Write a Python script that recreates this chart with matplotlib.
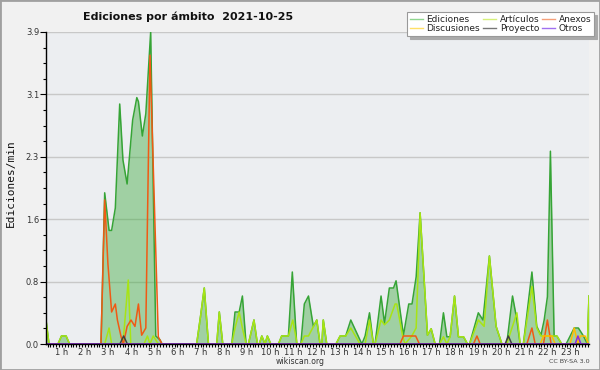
import matplotlib
matplotlib.use("Agg")
import matplotlib.pyplot as plt
from matplotlib.lines import Line2D
from matplotlib.patches import Rectangle
from matplotlib.ticker import MultipleLocator, FixedLocator

# hora del día (h) y ediciones/min por ámbito
ed_t = [0.31, 0.44, 0.83, 0.98, 1.18, 1.33,
        2.69, 2.85, 3.04, 3.15, 3.31, 3.50, 3.64, 3.82, 4.06, 4.24, 4.31, 4.48, 4.63, 4.84, 5.06, 5.25, 5.33,
        6.83, 7.00, 7.16, 7.34, 7.70, 7.81, 7.96,
        8.35, 8.49, 8.67, 8.81, 8.97, 9.07, 9.31, 9.46, 9.54, 9.65, 9.79, 9.89, 10.04,
        10.37, 10.51, 10.80, 10.97, 11.16, 11.34, 11.49, 11.67, 11.88, 12.03, 12.17, 12.25, 12.31, 12.46,
        12.86, 13.04, 13.28, 13.50, 13.98, 14.12, 14.31, 14.48, 14.55, 14.81, 14.96, 15.17, 15.35, 15.46, 15.78,
        16.01, 16.15, 16.33, 16.50, 16.82, 16.98, 17.15, 17.34, 17.51, 17.66, 17.80, 17.99, 18.16, 18.38, 18.55,
        18.64, 19.02, 19.22, 19.50, 19.79, 20.04, 20.25, 20.50, 20.69, 20.83, 20.97, 21.34, 21.55, 21.73, 21.87,
        22.01, 22.14, 22.30, 22.42, 22.63, 22.82, 23.17, 23.35, 23.57, 23.74, 23.81]
ed_v = [0.3, 0, 0, 0.1, 0.1, 0,
        0, 1.89, 1.42, 1.42, 1.70, 3.0, 2.3, 2.0, 2.8, 3.08, 3.03, 2.6, 2.88, 3.9, 0.1, 0.05, 0,
        0, 0.35, 0.7, 0, 0, 0.4, 0,
        0, 0.4, 0.4, 0.6, 0, 0, 0.3, 0, 0, 0.1, 0, 0.1, 0,
        0, 0.1, 0.1, 0.9, 0, 0, 0.5, 0.6, 0.22, 0.3, 0, 0, 0.3, 0,
        0, 0.1, 0.1, 0.3, 0, 0.1, 0.39, 0, 0, 0.6, 0.26, 0.7, 0.7, 0.79, 0.11,
        0.5, 0.5, 0.84, 1.64, 0.11, 0.19, 0, 0, 0.39, 0.09, 0.09, 0.6, 0.09, 0.09, 0,
        0, 0.39, 0.3, 1.1, 0.22, 0, 0, 0.6, 0.3, 0, 0, 0.9, 0.22, 0.11, 0.3,
        0.59, 2.41, 0.1, 0.1, 0, 0, 0.2, 0.2, 0.1, 0, 0.6]

art_t = [0.31, 0.44, 0.83, 0.98, 1.18, 1.33,
         2.85, 3.04, 3.15, 3.64, 3.87, 3.98, 4.55, 4.70, 4.81, 4.95, 5.17,
         6.83, 7.00, 7.16, 7.34, 7.70, 7.81, 7.96,
         8.35, 8.49, 8.67, 8.81, 8.97, 9.07, 9.31, 9.46, 9.54, 9.65, 9.79, 9.89, 10.04,
         10.37, 10.51, 10.80, 10.99, 11.18, 11.34, 11.49, 11.67, 12.03, 12.17, 12.25, 12.31, 12.46,
         12.86, 13.04, 13.28, 13.50, 13.90, 14.12, 14.31, 14.48, 14.55, 14.81, 14.96, 15.17, 15.42, 15.49, 15.75, 15.85,
         16.14, 16.33, 16.50, 16.82, 16.98, 17.15, 17.34, 17.51, 17.66, 17.80, 17.99, 18.16, 18.38, 18.55,
         18.64, 19.02, 19.27, 19.50, 19.79, 20.04, 20.25, 20.69, 20.83, 20.97, 21.34, 21.55, 21.73, 21.91,
         22.27, 22.42, 22.63, 23.74, 23.81]
art_v = [0.3, 0, 0, 0.1, 0.1, 0,
         0, 0.2, 0, 0, 0.8, 0, 0, 0.1, 0, 0.1, 0,
         0, 0.35, 0.7, 0, 0, 0.4, 0,
         0, 0.2, 0.4, 0.2, 0, 0, 0.3, 0, 0, 0.1, 0, 0.1, 0,
         0, 0.1, 0.1, 0.3, 0, 0, 0.1, 0.1, 0.3, 0, 0, 0.3, 0,
         0, 0.1, 0.1, 0.2, 0, 0, 0.3, 0, 0, 0.3, 0.24, 0.3, 0.5, 0.5, 0.09, 0,
         0.1, 0.2, 1.64, 0.11, 0.19, 0, 0, 0.09, 0, 0.09, 0.6, 0.09, 0.09, 0,
         0, 0.3, 0.22, 1.1, 0.22, 0, 0, 0.39, 0, 0, 0.72, 0.2, 0.1, 0.1,
         0.1, 0.1, 0, 0, 0.6]

anx_t = [0.31, 2.69, 2.85, 2.99, 3.15, 3.31, 3.40, 3.56, 3.66, 3.82, 3.99, 4.16, 4.31, 4.45, 4.63, 4.81,
         5.17, 5.33, 15.63, 15.78, 16.31, 16.47, 18.81, 18.96, 19.10,
         21.12, 21.34, 21.48, 21.84, 22.01, 22.17, 23.81]
anx_v = [0, 0, 1.8, 1.0, 0.4, 0.5, 0.3, 0.09, 0, 0.22, 0.3, 0.22, 0.5, 0.11, 0.2, 3.61,
         0.09, 0, 0, 0.1, 0.1, 0, 0, 0.1, 0,
         0, 0.2, 0, 0, 0.3, 0, 0]

dis_t = [0.31, 21.70, 21.84, 22.20, 22.35, 22.99, 23.17, 23.33, 23.43, 23.64, 23.79, 23.81]
dis_v = [0, 0, 0.1, 0.1, 0, 0, 0.2, 0, 0.1, 0.1, 0, 0]

proy_t = [0.31, 3.51, 3.67, 3.83, 20.18, 20.32, 20.47, 23.81]
proy_v = [0, 0, 0.1, 0, 0, 0.1, 0, 0]

otros_t = [0.31, 23.21, 23.33, 23.46, 23.81]
otros_v = [0, 0, 0.1, 0, 0]

y_ticks = [0, 0.78, 1.56, 2.34, 3.12, 3.9]
y_labels = ["0.0", "0.8", "1.6", "2.3", "3.1", "3.9"]
hours = list(range(1, 24))

fig = plt.figure(figsize=(6, 3.7), dpi=100, facecolor="#f1f1f1")
ax = fig.add_axes([46 / 600, 1 - 344 / 370, 543 / 600, 312 / 370])
ax.set_facecolor("#eceef1")

ax.fill_between(ed_t, ed_v, 0, color="#3caa3c", alpha=0.43, lw=0, zorder=1.5)
ax.plot(ed_t, ed_v, color="#36a436", lw=1.1)
ax.plot(art_t, art_v, color="#a8e414", lw=1.1)
ax.plot(anx_t, anx_v, color="#f05a14", lw=1.1)
ax.plot(dis_t, dis_v, color="#ffbb00", lw=1.1)
ax.plot(proy_t, proy_v, color="#404040", lw=1.1)
ax.plot(otros_t, otros_v, color="#8a2be2", lw=1.1)

ax.set_xlim(0.31, 23.81)
ax.set_ylim(0, 3.9)
ax.yaxis.set_major_locator(FixedLocator(y_ticks))
ax.set_yticklabels(y_labels)
ax.yaxis.set_minor_locator(MultipleLocator(0.195))
ax.xaxis.set_major_locator(FixedLocator(hours))
ax.set_xticklabels([f"{h} h" for h in hours])
ax.xaxis.set_minor_locator(MultipleLocator(0.125))
ax.grid(axis="y", color="#c8c8c8", lw=1)
ax.set_axisbelow(True)

for s in ["top", "right"]:
    ax.spines[s].set_visible(False)
for s in ["left", "bottom"]:
    ax.spines[s].set_linewidth(1)
    ax.spines[s].set_zorder(3)

ax.tick_params(axis="x", which="both", length=2.5, width=0.8, pad=0.5,
               labelsize=6, labelcolor="#333333")
ax.tick_params(axis="y", which="major", length=4, width=0.8, pad=1,
               labelsize=6, labelcolor="#333333")
ax.tick_params(axis="y", which="minor", length=2.5, width=0.8)

fig.text(0.314, 0.954, "Ediciones por ámbito  2021-10-25", ha="center", va="center",
         fontsize=8.0, fontweight="bold", color="#111111")
fig.text(0.018, 0.504, "Ediciones/min", rotation=90, ha="center", va="center",
         fontsize=8, family="DejaVu Sans Mono", color="#111111")
fig.text(0.5, 0.024, "wikiscan.org", ha="center", va="center", fontsize=5.6, color="#333333")
fig.text(0.982, 0.022, "CC BY-SA 3.0", ha="right", va="center", fontsize=4.6, color="#444444")

handles = [Line2D([], [], color="#8fd68f", lw=1),
           Line2D([], [], color="#ffe066", lw=1),
           Line2D([], [], color="#d6f07a", lw=1),
           Line2D([], [], color="#777777", lw=1),
           Line2D([], [], color="#f5a07a", lw=1),
           Line2D([], [], color="#a070f0", lw=1)]
labels = ["Ediciones", "Discusiones", "Artículos", "Proyecto", "Anexos", "Otros"]
leg = fig.legend(handles, labels, ncol=3, loc="upper right",
                 bbox_to_anchor=(594 / 600, 1 - 12 / 370), bbox_transform=fig.transFigure,
                 fontsize=6.5, handlelength=1.4, handletextpad=0.45, columnspacing=0.3,
                 labelspacing=0.05, borderpad=0.3, borderaxespad=0, fancybox=False,
                 frameon=True, shadow={"color": "#aaaaaa", "alpha": 1.0})
leg.get_frame().set_edgecolor("#999999")
leg.get_frame().set_linewidth(0.8)
for t in leg.get_texts():
    t.set_color("#222222")

fig.patches.append(Rectangle((0, 0), 1, 1, transform=fig.transFigure, fill=False,
                             edgecolor="#a0a0a0", lw=2))

fig.savefig("out.png", dpi=100, facecolor=fig.get_facecolor())
